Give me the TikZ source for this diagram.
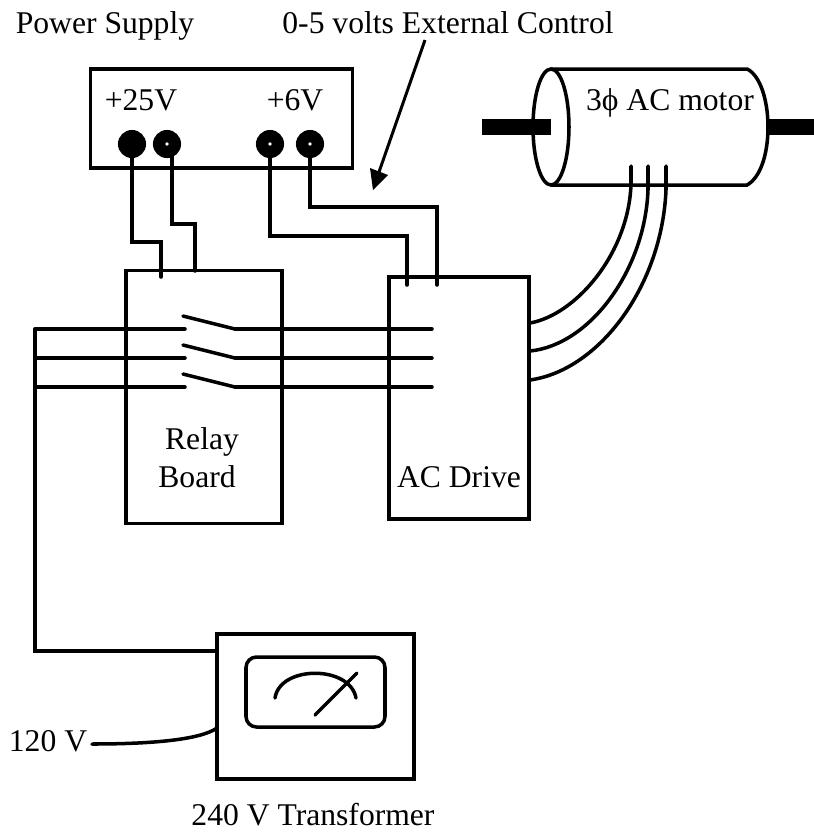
\documentclass[tikz,border=0pt]{standalone}
\usepackage{fontspec}
\setmainfont{Liberation Serif}
\tikzset{
  wire/.style={line width=2pt,line cap=round,line join=miter},
  box/.style={draw,line width=2pt,rectangle,inner sep=0pt},
  post/.style={circle,fill=black,minimum size=16pt,inner sep=0pt},
  hole/.style={circle,fill=white,minimum size=2.2pt,inner sep=0pt},
  lbl/.style={inner sep=0pt,font=\fontsize{18pt}{20pt}\selectfont}
}
\begin{document}
\begin{tikzpicture}[x=0.02cm,y=-0.02cm]
  \useasboundingbox (0,0) rectangle (814,833);

  % power supply
  \node[box,minimum width=149pt,minimum height=56.5pt] (supply) at (221.5,118.5) {};
  \node[post] (p1) at (132,144) {};
  \node[post] (p2) at (167,144) {};
  \node[post] (p3) at (270,144) {};
  \node[post] (p4) at (310,144) {};
  \node[hole] (h2) at (p2) {};
  \node[hole] (h3) at (p3) {};
  \node[hole] (h4) at (p4) {};
  \coordinate (p2r) at (172,144);
  \node[lbl,anchor=base] (v25) at (141,110) {+25V};
  \node[lbl,anchor=base] (v6) at (295,110) {+6V};
  \node[lbl,anchor=base] (supplylbl) at (105,33) {Power Supply};
  \node[lbl,anchor=base] (extlbl) at (448,33) {0-5 volts External Control};

  % boxes
  \node[box,minimum width=88.8pt,minimum height=144pt] (relay) at (204,397) {};
  \node[box,minimum width=79.7pt,minimum height=137.7pt] (drive) at (459,398) {};
  \node[lbl,anchor=base] (relaylbl) at (202,449) {Relay};
  \node[lbl,anchor=base] (boardlbl) at (197,487) {Board};
  \node[lbl,anchor=base] (drivelbl) at (459,487) {AC Drive};

  % relay and drive wires
  \coordinate (r1) at (161,277);
  \coordinate (r2) at (195,271);
  \coordinate (d1) at (407,285);
  \coordinate (d2) at (437,285);
  \draw[wire] (p1) |- (161,242) -- (r1);
  \draw[wire] (p2r) |- (195,224) -- (r2);
  \draw[wire] (p3) |- (407,236) -- (d1);
  \draw[wire] (p4) |- (437,207) -- (d2);

  % three phases
  \foreach \y/\name in {329/a,358/b,387/c} {
    \coordinate (in\name) at (35,\y);
    \coordinate (sw\name) at (185,\y);
    \coordinate (arm\name) at (183,\y-13);
    \coordinate (on\name) at (235,\y);
    \coordinate (out\name) at (432,\y);
    \draw[wire] (in\name) -- (sw\name);
    \draw[wire] (on\name) -- (out\name);
    \draw[wire] (arm\name) -- (on\name);
  }

  % transformer
  \node[box,minimum width=112pt,minimum height=82.5pt] (trans) at (315.5,706.5) {};
  \draw[line width=2pt,rounded corners=6pt] (246,657) rectangle (385,727);
  \draw[wire] (275,698) .. controls (280,665) and (350,665) .. (356,698);
  \draw[wire] (315,715) -- (357,673);
  \draw[wire] (ina) -- (35,651) -- (217,651);
  \node[lbl,anchor=base] (lowlbl) at (48,751) {120 V};
  \node[lbl,anchor=base] (translbl) at (313,825) {240 V Transformer};
  \coordinate (feed) at (92,744);
  \draw[wire] (feed) .. controls (150,744) and (200,740) .. (217,728);

  % motor
  \draw[wire,line cap=butt] (551,69) -- (747,69) .. controls (760,75) and (768,100) .. (768,127)
    .. controls (768,155) and (760,178) .. (747,185) -- (551,185);
  \draw[line width=2pt] (551,127) ellipse (18 and 58);
  \fill (482,119) rectangle (551,135);
  \fill (768,119) rectangle (814,135);
  \node[lbl,anchor=base] (motorlbl) at (670,110) {3ϕ AC motor};
  \draw[wire] (631,166) -- (631,185) .. controls (628,255) and (575,315) .. (530,323);
  \draw[wire] (648,166) -- (648,190) .. controls (645,270) and (590,345) .. (530,351);
  \draw[wire] (666,166) -- (666,190) .. controls (662,285) and (600,370) .. (530,380);

  % control arrow
  \coordinate (ctrl) at (425,40);
  \coordinate (tip) at (373,190);
  \draw[line width=1.7pt] (ctrl) -- (379,172);
  \fill (tip) -- (370,168) -- (388,175) -- cycle;
\end{tikzpicture}
\end{document}
